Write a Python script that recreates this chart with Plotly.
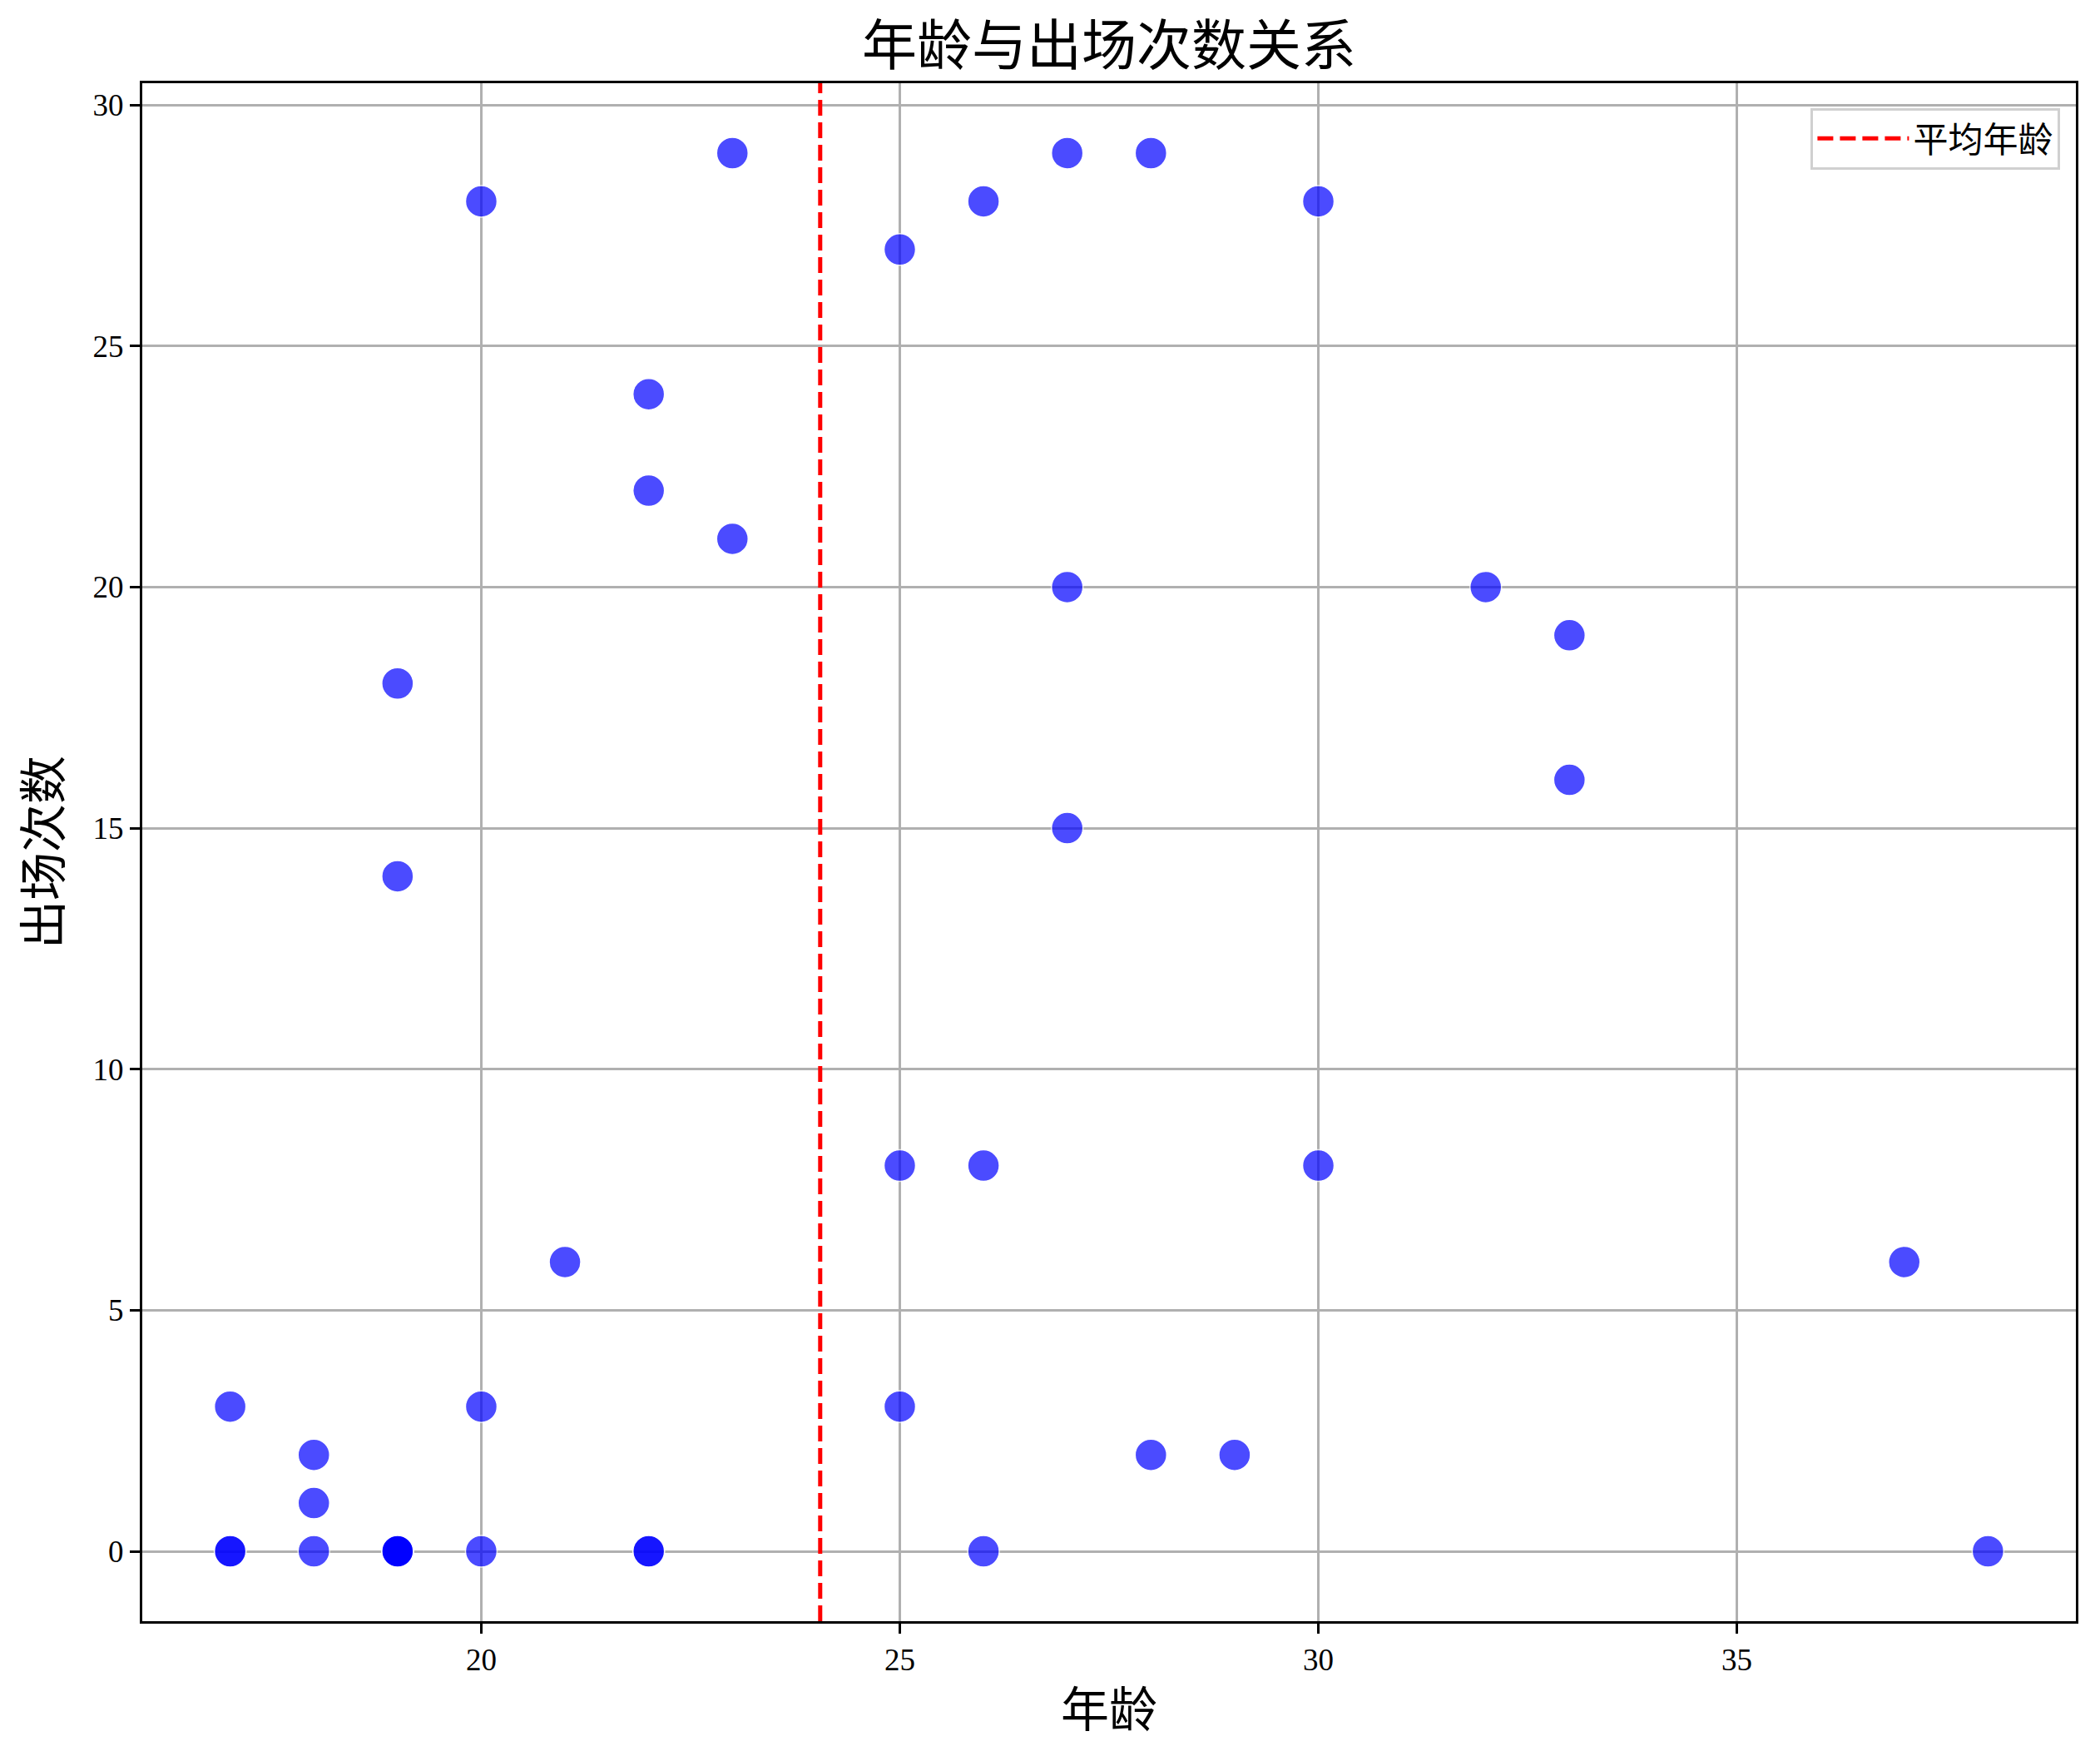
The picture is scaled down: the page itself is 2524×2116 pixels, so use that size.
import plotly.graph_objects as go

# dados
idades = [17, 17, 17, 18, 18, 18, 19, 19, 19, 19, 19, 19, 20, 20, 20, 21,
          22, 22, 22, 22, 23, 23, 25, 25, 25, 26, 26, 26, 27, 27, 27,
          28, 28, 29, 30, 30, 32, 33, 33, 37, 38]
jogos = [3, 0, 0, 2, 1, 0, 18, 14, 0, 0, 0, 0, 28, 3, 0, 6,
         24, 22, 0, 0, 29, 21, 27, 8, 3, 28, 8, 0, 29, 20, 15,
         29, 2, 2, 28, 8, 20, 19, 16, 6, 0]

x_ticks = [20, 25, 30, 35]
y_ticks = [0, 5, 10, 15, 20, 25, 30]

media_idade = sum(idades) / len(idades)

FONTE = "Liberation Serif, Noto Sans CJK SC, serif"

# a página tem margem de 8px no body
LARGURA = 2516
ALTURA = 2108

fig = go.Figure()

fig.add_trace(
    go.Scatter(
        x=idades,
        y=jogos,
        mode="markers",
        showlegend=False,
        marker=dict(
            size=38,
            color="blue",
            opacity=0.7,
            line=dict(width=1.5, color="white"),
        ),
    )
)

fig.add_vline(
    x=media_idade,
    line=dict(color="red", width=5, dash="19px,8px"),
    name="平均年龄",
    showlegend=True,
)

fig.update_layout(
    width=LARGURA,
    height=ALTURA,
    template="plotly_white",
    font=dict(family=FONTE, color="#000000", size=37),
    title=dict(
        text="年龄与出场次数关系",
        x=0.5,
        xref="paper",
        xanchor="center",
        y=1 - 47 / ALTURA,
        yref="container",
        yanchor="middle",
        font=dict(size=66, family=FONTE),
    ),
    margin=dict(l=163, r=29, t=92, b=168, autoexpand=False),
    paper_bgcolor="white",
    plot_bgcolor="white",
    legend=dict(
        x=0.992,
        y=0.984,
        xanchor="right",
        yanchor="top",
        bgcolor="rgba(255,255,255,0.8)",
        bordercolor="#d0d0d0",
        borderwidth=3,
        itemwidth=110,
        font=dict(size=42, family=FONTE),
    ),
)

fig.update_xaxes(
    range=[15.95, 39.05],
    tickvals=x_ticks,
    automargin=False,
    showgrid=True,
    gridcolor="#b0b0b0",
    gridwidth=2.5,
    zeroline=False,
    showline=True,
    linecolor="#000000",
    linewidth=3,
    mirror=True,
    ticks="outside",
    ticklen=12,
    tickwidth=3,
    tickcolor="#000000",
    tickfont=dict(size=37, family=FONTE),
    title=dict(text="年龄", font=dict(size=58, family=FONTE), standoff=20),
)

fig.update_yaxes(
    range=[-1.45, 30.45],
    tickvals=y_ticks,
    automargin=False,
    showgrid=True,
    gridcolor="#b0b0b0",
    gridwidth=2.5,
    zeroline=False,
    showline=True,
    linecolor="#000000",
    linewidth=3,
    mirror=True,
    ticks="outside",
    ticklen=12,
    tickwidth=3,
    tickcolor="#000000",
    tickfont=dict(size=37, family=FONTE),
    title=dict(text="出场次数", font=dict(size=58, family=FONTE), standoff=20),
)

fig.write_html("out.html")
